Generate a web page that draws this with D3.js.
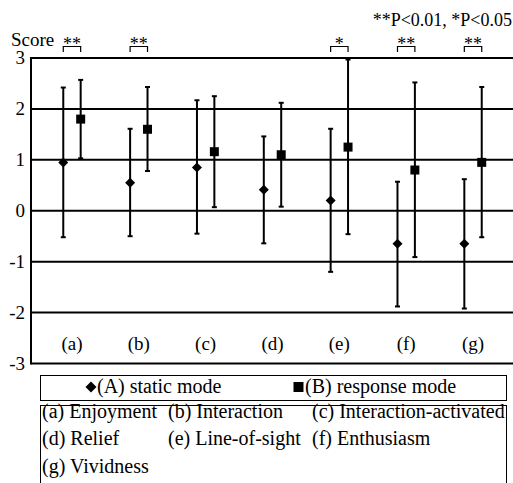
<!DOCTYPE html>
<html>
<head>
<meta charset="utf-8">
<script src="https://cdn.jsdelivr.net/npm/d3@7"></script>
</head>
<body style="margin:0">
<svg id="box1_svg" width="513" height="483"></svg>
<script>
"use strict";

// categories and values
const categories = ['(a)', '(b)', '(c)', '(d)', '(e)', '(f)', '(g)'];
const static_mean = [0.95, 0.55, 0.85, 0.41, 0.20, -0.65, -0.65];
const static_high = [2.42, 1.61, 2.17, 1.46, 1.61, 0.57, 0.62];
const static_low = [-0.52, -0.50, -0.45, -0.64, -1.20, -1.88, -1.92];
const response_mean = [1.80, 1.60, 1.16, 1.10, 1.25, 0.80, 0.95];
const response_high = [2.57, 2.43, 2.25, 2.12, 2.97, 2.52, 2.43];
const response_low = [1.03, 0.78, 0.07, 0.08, -0.46, -0.91, -0.52];
const significance = ['**', '**', '', '', '*', '**', '**'];
const y_ticks = [3, 2, 1, 0, -1, -2, -3];
const legend_labels = ['(A) static mode', '(B) response mode'];
const factor_labels = [
  '(a) Enjoyment', '(b) Interaction', '(c) Interaction-activated',
  '(d) Relief', '(e) Line-of-sight', '(f) Enthusiasm',
  '(g) Vividness'
];

const W = 513;
const svg = d3.select('#box1_svg').style('display', 'block');

// scales
const x = d3.scalePoint().domain(categories).range([31, 514]).padding(0.613);
const y = d3.scaleLinear().domain([-3, 3]).range([363.5, 58]);
const off = 8.7; // offset of the two modes around the category centre

// one entry per mode
const series = [
  { key: 'static', dx: -off, mean: static_mean, hi: static_high, lo: static_low },
  { key: 'response', dx: off, mean: response_mean, hi: response_high, lo: response_low }
];

// small helper for serif text
const label = (sel, size) => sel
  .attr('font-size', size)
  .style('font-family', 'Liberation Serif')
  .style('fill', '#000');

// grid lines
svg.append('g')
  .selectAll('line')
  .data(y_ticks)
  .join('line')
  .attr('x1', 31).attr('x2', W)
  .attr('y1', d => y(d)).attr('y2', d => y(d))
  .attr('stroke', '#000').attr('stroke-width', 2);

// left axis line
svg.append('line')
  .attr('x1', 31).attr('x2', 31)
  .attr('y1', y(3) - 1).attr('y2', y(-3) + 1)
  .attr('stroke', '#000').attr('stroke-width', 2);

// tick labels
svg.append('g')
  .selectAll('text')
  .data(y_ticks)
  .join('text')
  .attr('x', 25)
  .attr('y', d => y(d) + 6)
  .attr('text-anchor', 'end')
  .call(label, 19)
  .text(d => d);

svg.append('text')
  .attr('x', 11).attr('y', 46)
  .call(label, 19)
  .text('Score');

svg.append('text')
  .attr('x', 512).attr('y', 26)
  .attr('text-anchor', 'end')
  .call(label, 18)
  .text('**P<0.01, *P<0.05');

// category labels
svg.append('g')
  .selectAll('text')
  .data(categories)
  .join('text')
  .attr('x', d => x(d))
  .attr('y', 350)
  .attr('text-anchor', 'middle')
  .call(label, 19)
  .text(d => d);

// error bars and markers
const diamond = (cx, cy, r) => `M${cx},${cy - r}L${cx + r},${cy}L${cx},${cy + r}L${cx - r},${cy}Z`;
const square = (cx, cy, r) => `M${cx - r},${cy - r}h${2 * r}v${2 * r}h${-2 * r}Z`;

series.forEach(s => {
  const g = svg.append('g');
  const rows = categories.map((c, i) => ({ c, m: s.mean[i], hi: s.hi[i], lo: s.lo[i] }));
  g.selectAll('line.bar')
    .data(rows).join('line')
    .attr('x1', d => x(d.c) + s.dx).attr('x2', d => x(d.c) + s.dx)
    .attr('y1', d => y(d.hi)).attr('y2', d => y(d.lo))
    .attr('stroke', '#000').attr('stroke-width', 2);
  ['hi', 'lo'].forEach(k => {
    g.selectAll('line.cap_' + k)
      .data(rows).join('line')
      .attr('x1', d => x(d.c) + s.dx - 2.5).attr('x2', d => x(d.c) + s.dx + 2.5)
      .attr('y1', d => y(d[k])).attr('y2', d => y(d[k]))
      .attr('stroke', '#000').attr('stroke-width', 2);
  });
  g.selectAll('path')
    .data(rows).join('path')
    .attr('d', d => s.key == 'static'
      ? diamond(x(d.c) + s.dx, y(d.m), 5)
      : square(x(d.c) + s.dx, y(d.m), 4.5))
    .attr('fill', '#000');
});

// significance brackets
const sig_rows = categories.map((c, i) => ({ c, s: significance[i] })).filter(d => d.s);
const sg = svg.append('g');
sg.selectAll('path')
  .data(sig_rows).join('path')
  .attr('d', d => `M${x(d.c) - off},52V46.5H${x(d.c) + off}V52`)
  .attr('fill', 'none').attr('stroke', '#000').attr('stroke-width', 1.2);
sg.selectAll('text')
  .data(sig_rows).join('text')
  .attr('x', d => x(d.c)).attr('y', 50)
  .attr('text-anchor', 'middle')
  .call(label, 18)
  .text(d => d.s);

// legend 1
svg.append('rect')
  .attr('x', 40.5).attr('y', 375.5).attr('width', 466).attr('height', 25)
  .attr('fill', 'none').attr('stroke', '#000').attr('stroke-width', 1);
svg.append('path').attr('d', diamond(91, 387, 5.5)).attr('fill', '#000');
svg.append('path').attr('d', square(298.5, 387, 5)).attr('fill', '#000');
svg.append('g')
  .selectAll('text')
  .data(legend_labels).join('text')
  .attr('x', (d, i) => i == 0 ? 97 : 305)
  .attr('y', 393)
  .call(label, 20)
  .text(d => d);

// legend 2
svg.append('rect')
  .attr('x', 40.5).attr('y', 405.5).attr('width', 466).attr('height', 90)
  .attr('fill', 'none').attr('stroke', '#000').attr('stroke-width', 1);
const col_x = [42, 168, 312];
svg.append('g')
  .selectAll('text')
  .data(factor_labels).join('text')
  .attr('x', (d, i) => col_x[i % 3])
  .attr('y', (d, i) => 418 + Math.floor(i / 3) * 27.3)
  .call(label, 20)
  .text(d => d);
</script>
</body>
</html>
